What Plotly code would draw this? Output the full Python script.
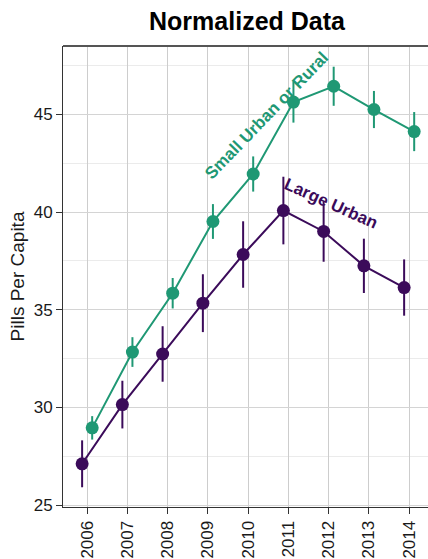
import plotly.graph_objects as go

years = [2006, 2007, 2008, 2009, 2010, 2011, 2012, 2013, 2014]
small_urban = [28.96, 32.84, 35.85, 39.52, 41.95, 45.63, 46.44, 45.25, 44.12]
small_urban_err = [0.6, 0.76, 0.78, 0.89, 0.9, 1.05, 1.0, 0.95, 1.0]
large_urban = [27.12, 30.15, 32.74, 35.34, 37.83, 40.08, 39.01, 37.25, 36.14]
large_urban_err = [1.2, 1.22, 1.42, 1.48, 1.7, 1.73, 1.55, 1.39, 1.44]
tick_labels = [str(y) for y in years]

GREEN = "#1f9874"
PURPLE = "#3b0b5a"
FONT = "Liberation Sans, Arial, sans-serif"
DODGE = 0.125

fig = go.Figure()
fig.add_trace(go.Scatter(
    x=[y - DODGE for y in years], y=large_urban,
    mode="lines+markers",
    line=dict(color=PURPLE, width=2),
    marker=dict(color=PURPLE, size=13),
    error_y=dict(type="data", array=large_urban_err, color=PURPLE, thickness=2, width=0),
    name="Large Urban", showlegend=False,
))
fig.add_trace(go.Scatter(
    x=[y + DODGE for y in years], y=small_urban,
    mode="lines+markers",
    line=dict(color=GREEN, width=2),
    marker=dict(color=GREEN, size=13),
    error_y=dict(type="data", array=small_urban_err, color=GREEN, thickness=2, width=0),
    name="Small Urban or Rural", showlegend=False,
))

fig.add_annotation(x=2010.46, y=44.95, xref="x", yref="y",
                   text="<b>Small Urban or Rural</b>", showarrow=False,
                   textangle=-46, font=dict(family=FONT, size=17, color=GREEN))
fig.add_annotation(x=2012.05, y=40.45, xref="x", yref="y",
                   text="<b>Large Urban</b>", showarrow=False,
                   textangle=24, font=dict(family=FONT, size=17, color=PURPLE))

fig.add_shape(type="line", xref="paper", yref="paper", x0=0, x1=1, y0=1, y1=1,
              line=dict(color="#555555", width=2))

fig.update_layout(
    width=428, height=559,
    margin=dict(l=63, r=0, t=46, b=49),
    paper_bgcolor="white", plot_bgcolor="white",
    font=dict(family=FONT, size=17, color="#1a1a1a"),
    title=dict(text="<b>Normalized Data</b>", x=(247) / 428, xanchor="center",
               y=1 - 21.5 / 559, yanchor="middle", yref="container",
               font=dict(family=FONT, size=25, color="#000000")),
    xaxis=dict(
        range=[2005.4, 2014.468],
        tickmode="array", tickvals=years, ticktext=tick_labels,
        tickangle=-90,
        ticks="outside", ticklen=6, tickcolor="#333333", tickwidth=1,
        showgrid=True, gridcolor="#cdcdcd", gridwidth=1,
        showline=True, linecolor="#333333", linewidth=1,
        zeroline=False,
        tickfont=dict(family=FONT, size=17, color="#1a1a1a"),
    ),
    yaxis=dict(
        range=[24.91, 48.5],
        tick0=25, dtick=5,
        ticks="outside", ticklen=6, tickcolor="#333333", tickwidth=1,
        showgrid=True, gridcolor="#d4d4d4", gridwidth=1,
        minor=dict(tick0=25, dtick=2.5, showgrid=True, gridcolor="#ebebeb", gridwidth=1),
        showline=True, linecolor="#333333", linewidth=1,
        zeroline=False,
        title=dict(text="Pills Per Capita", font=dict(family=FONT, size=19, color="#1a1a1a"), standoff=4),
        tickfont=dict(family=FONT, size=17, color="#1a1a1a"),
    ),
)

fig.write_html("out.html")
